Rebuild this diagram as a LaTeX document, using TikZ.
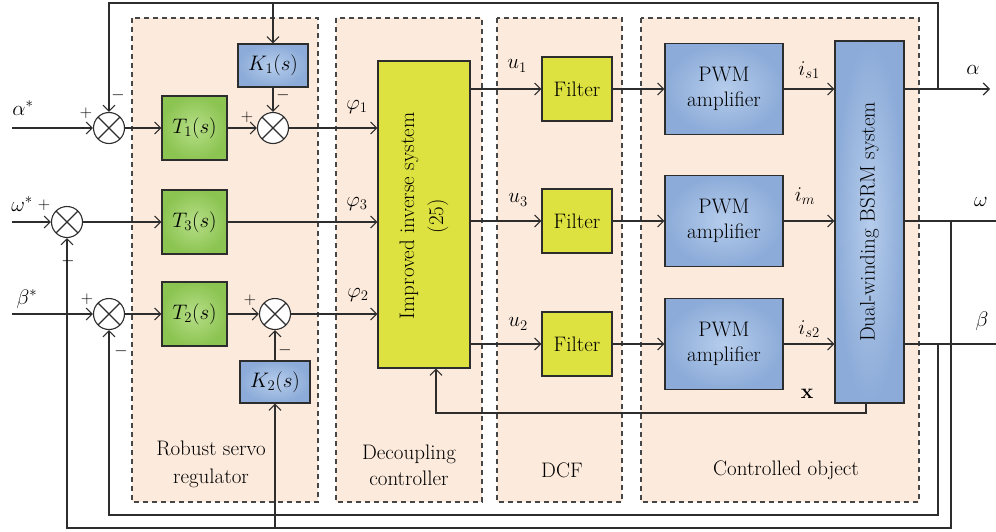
\RequirePackage{fix-cm}
\documentclass[tikz,border=0pt]{standalone}
\usetikzlibrary{arrows.meta,calc}
\definecolor{peach}{RGB}{252,234,220}
\definecolor{gfill}{RGB}{140,196,82}
\definecolor{glight}{RGB}{182,222,135}
\definecolor{bfill}{RGB}{140,171,216}
\definecolor{blight}{RGB}{182,205,236}
\definecolor{yfill}{RGB}{221,226,64}
\definecolor{ln}{RGB}{45,45,45}
\definecolor{dashc}{RGB}{70,70,70}
\begin{document}
\begin{tikzpicture}[x=1pt,y=-1pt,font=\fontsize{21}{25}\selectfont,
  wire/.style={draw=ln,line width=1.1pt},
  arr/.style={wire,-{Straight Barb[length=6pt,width=12pt,line width=1.1pt]}},
  gbox/.style={draw=ln,line width=1.2pt,inner color=glight,outer color=gfill,minimum width=65pt,minimum height=64pt,inner sep=0pt},
  bbox/.style={draw=ln,line width=1.2pt,inner color=blight,outer color=bfill,inner sep=0pt},
  ybox/.style={draw=ln,line width=1.2pt,fill=yfill,inner sep=0pt},
  sumj/.style={circle,draw=ln,line width=1.1pt,fill=white,minimum size=31pt,inner sep=0pt,
    path picture={\draw[ln,line width=1.1pt] (path picture bounding box.north west)--(path picture bounding box.south east)
      (path picture bounding box.north east)--(path picture bounding box.south west);}},
  region/.style={draw=dashc,dash pattern=on 5pt off 4pt,line width=1.1pt,fill=peach},
  sgn/.style={font=\fontsize{17}{19}\selectfont,inner sep=0pt},
  lbl/.style={inner sep=0pt}]
\useasboundingbox (0,0) rectangle (996,531);

% regions
\path[region] (132,18) rectangle (318,502);
\path[region] (336,18) rectangle (482,502);
\path[region] (497,18) rectangle (622,502);
\path[region] (641,18) rectangle (919,502);

% summing junctions
\node[sumj] (s1) at (109,128) {};
\node[sumj] (s2) at (273,128) {};
\node[sumj] (sw) at (67,222) {};
\node[sumj] (sb) at (109,314) {};
\node[sumj] (sb2) at (275,314) {};

% blocks
\node[gbox] (T1) at (194.5,128) {$T_1(s)$};
\node[gbox] (T3) at (194.5,222) {$T_3(s)$};
\node[gbox] (T2) at (194.5,314) {$T_2(s)$};
\node[bbox,minimum width=70pt,minimum height=43pt] (K1) at (273,65.5) {$K_1(s)$};
\node[bbox,minimum width=70pt,minimum height=42pt] (K2) at (275,382) {$K_2(s)$};
\node[ybox,minimum width=92pt,minimum height=307pt] (inv) at (424,214.5) {};
\node[rotate=90,align=center,font=\fontsize{21}{29}\selectfont] (invt) at (424,216) {Improved inverse system\\(25)};
\node[ybox,minimum width=70pt,minimum height=64pt] (F1) at (577,89) {Filter};
\node[ybox,minimum width=70pt,minimum height=64pt] (F3) at (577,221) {Filter};
\node[ybox,minimum width=70pt,minimum height=64pt] (F2) at (577,344) {Filter};
\node[bbox,minimum width=118pt,minimum height=91pt,align=center,font=\fontsize{21}{25}\selectfont] (P1) at (724,89) {PWM\\amplifier};
\node[bbox,minimum width=118pt,minimum height=91pt,align=center,font=\fontsize{21}{25}\selectfont] (P3) at (724,221) {PWM\\amplifier};
\node[bbox,minimum width=118pt,minimum height=91pt,align=center,font=\fontsize{21}{25}\selectfont] (P2) at (724,344) {PWM\\amplifier};
\node[bbox,minimum width=69pt,minimum height=362pt] (bs) at (869.5,222) {};
\node[rotate=90] (bst) at (869.5,222) {Dual-winding BSRM system};

% inputs
\coordinate (ain) at (12,128);
\coordinate (win) at (12,222);
\coordinate (bin) at (12,314);
\draw[arr] (ain) -- (s1.west);
\draw[arr] (win) -- (sw.west);
\draw[arr] (bin) -- (sb.west);

% forward paths
\draw[arr] (s1.east) -- (T1.west);
\draw[arr] (T1.east) -- (s2.west);
\draw[arr] (s2.east) -- (inv.west |- s2);
\draw[arr] (sw.east) -- (T3.west);
\draw[arr] (T3.east) -- (inv.west |- T3);
\draw[arr] (sb.east) -- (T2.west);
\draw[arr] (T2.east) -- (sb2.west);
\draw[arr] (sb2.east) -- (inv.west |- sb2);
\draw[arr] (K1.south) -- (s2.north);
\draw[arr] (K2.north) -- (sb2.south);

\draw[arr] (inv.east |- F1) -- (F1.west);
\draw[arr] (inv.east |- F3) -- (F3.west);
\draw[arr] (inv.east |- F2) -- (F2.west);
\draw[arr] (F1.east) -- (P1.west);
\draw[arr] (F3.east) -- (P3.west);
\draw[arr] (F2.east) -- (P2.west);
\draw[arr] (P1.east) -- (bs.west |- P1);
\draw[arr] (P3.east) -- (bs.west |- P3);
\draw[arr] (P2.east) -- (bs.west |- P2);

% outputs
\coordinate (aout) at (990,89);
\coordinate (wout) at (996,221);
\coordinate (bout) at (996,344);
\draw[arr] (bs.east |- P1) -- (aout);
\draw[wire] (bs.east |- P3) -- (wout);
\draw[wire] (bs.east |- P2) -- (bout);

% feedback
\coordinate (fa) at (938,89);
\coordinate (fa1) at (938,3);
\coordinate (ka) at (273,3);
\draw[arr] (fa) -- (fa1) -| (s1.north);
\draw[arr] (ka) -- (K1.north);
\coordinate (fw) at (951,221);
\coordinate (fw1) at (951,528);
\coordinate (kb) at (275,528);
\draw[arr] (fw) -- (fw1) -| (sw.south);
\draw[arr] (kb) -- (K2.south);
\coordinate (fb) at (938,344);
\coordinate (fb1) at (938,515);
\draw[arr] (fb) -- (fb1) -| (sb.south);
\coordinate (xf) at (866,413);
\coordinate (xf2) at (436,413);
\draw[arr] (bs.south -| xf) -- (xf) -- (xf2) -- (xf2 |- inv.south);

% signs
\node[sgn] (p1) at (86,113) {$+$};
\node[sgn] (m1) at (118,95) {$-$};
\node[sgn] (p2) at (247,117) {$+$};
\node[sgn] (m2) at (283,95) {$-$};
\node[sgn] (pw) at (44,205) {$+$};
\node[sgn] (mw) at (68,261) {$-$};
\node[sgn] (pb) at (87,299) {$+$};
\node[sgn] (mb) at (121,351) {$-$};
\node[sgn] (pb2) at (250,300) {$+$};
\node[sgn] (mb2) at (285,350) {$-$};

% signal labels
\node[lbl] (la) at (23,108) {$\alpha^*$};
\node[lbl] (lw) at (22,204) {$\omega^*$};
\node[lbl] (lb) at (27,299) {$\beta^*$};
\node[lbl] (phi1) at (357,107) {$\varphi_1$};
\node[lbl] (phi3) at (357,204) {$\varphi_3$};
\node[lbl] (phi2) at (358,295) {$\varphi_2$};
\node[lbl] (u1) at (517,66) {$u_1$};
\node[lbl] (u3) at (518,200) {$u_3$};
\node[lbl] (u2) at (518,324) {$u_2$};
\node[lbl] (is1) at (809,70) {$i_{s1}$};
\node[lbl] (im) at (805,196) {$i_m$};
\node[lbl] (is2) at (809,329) {$i_{s2}$};
\node[lbl] (xl) at (807,394) {$\mathbf{x}$};
\node[lbl] (oa) at (973,70) {$\alpha$};
\node[lbl] (ow) at (981,202) {$\omega$};
\node[lbl] (ob) at (982,321) {$\beta$};

% region titles
\node[align=center,font=\fontsize{21}{28}\selectfont] (t1) at (211,464) {Robust servo\\regulator};
\node[align=center,font=\fontsize{21}{26}\selectfont] (t2) at (409,465) {Decoupling\\controller};
\node (t3) at (562,470) {DCF};
\node (t4) at (786,470) {Controlled object};
\end{tikzpicture}
\end{document}
